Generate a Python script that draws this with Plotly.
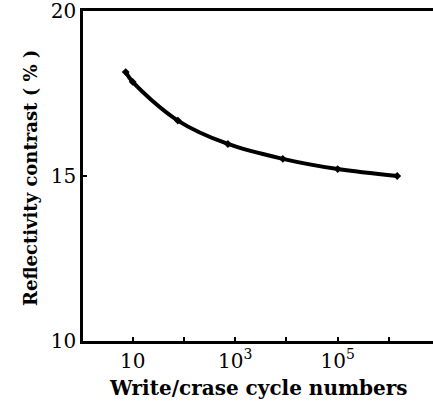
import plotly.graph_objects as go

# Measured reflectivity contrast versus number of write/erase cycles
cycles = [7.3, 10, 76, 720, 8500, 1.0e5, 1.45e6]
contrast = [18.15, 17.85, 16.68, 15.97, 15.52, 15.21, 15.0]

x_tick_vals = [10, 1e3, 1e5]
x_tick_text = ["10", "10<sup>3</sup>", "10<sup>5</sup>"]
x_minor_vals = [1e2, 1e4, 1e6]
y_tick_vals = [10, 15, 20]
y_tick_text = ["10", "15", "20"]

FONT = "DejaVu Serif"

fig = go.Figure()
fig.add_trace(go.Scatter(
    x=cycles, y=contrast,
    mode="lines+markers",
    line=dict(color="black", width=4, shape="spline", smoothing=1.0),
    marker=dict(color="black", size=6, symbol="diamond"),
    showlegend=False,
))

fig.update_layout(
    width=433, height=401,
    margin=dict(l=83, r=0, t=11, b=60),
    paper_bgcolor="white", plot_bgcolor="white",
    font=dict(family=FONT, color="black", size=19),
    xaxis=dict(
        type="log", range=[0.03, 6.86],
        tickvals=x_tick_vals, ticktext=x_tick_text,
        ticks="inside", ticklen=4, tickwidth=2, tickcolor="black",
        minor=dict(tickmode="array", tickvals=x_minor_vals, ticks="inside",
                   ticklen=4, tickwidth=2, tickcolor="black", showgrid=False),
        showline=True, linecolor="black", linewidth=2.5, mirror=True,
        showgrid=False, zeroline=False,
        tickfont=dict(family=FONT, size=20),
        ticklabeloverflow="allow",
    ),
    yaxis=dict(
        range=[10, 20],
        tickvals=y_tick_vals, ticktext=y_tick_text,
        ticks="inside", ticklen=4, tickwidth=2, tickcolor="black",
        showline=True, linecolor="black", linewidth=2.5, mirror=False,
        showgrid=False, zeroline=False,
        tickfont=dict(family=FONT, size=20),
        ticklabeloverflow="allow",
    ),
    annotations=[
        dict(text="<b>Write/crase cycle numbers</b>", xref="paper", yref="paper",
             x=(258 - 83) / 350, y=-(388 - 341) / 330, xanchor="center", yanchor="middle",
             showarrow=False, font=dict(family=FONT, size=20)),
        dict(text="<b>Reflectivity contrast ( % )</b>", xref="paper", yref="paper",
             x=-(83 - 30) / 350, y=(341 - 178) / 330, xanchor="center", yanchor="middle",
             textangle=-90, showarrow=False, font=dict(family=FONT, size=18)),
    ],
)

fig.write_html("out.html")
